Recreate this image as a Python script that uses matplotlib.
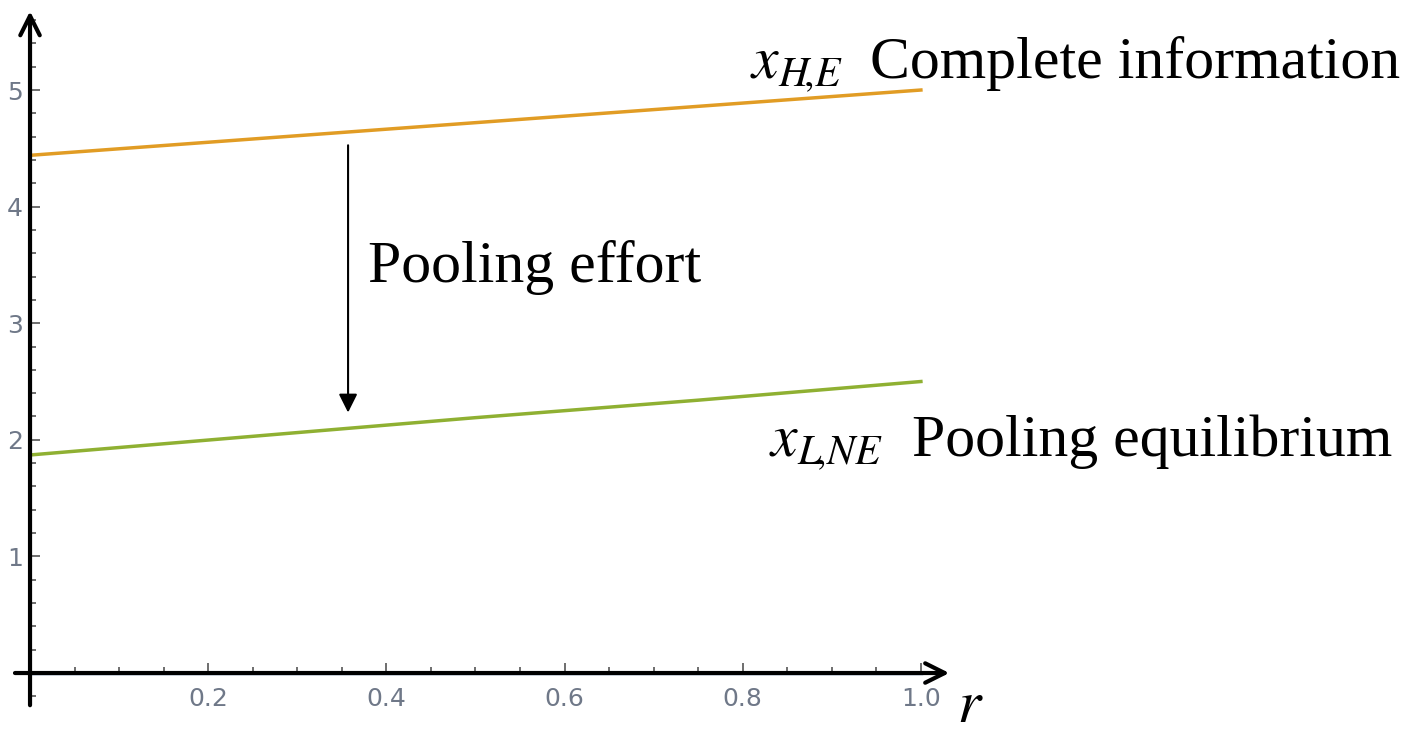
import matplotlib.pyplot as plt
import numpy as np

# values
r = [0.0, 0.25, 0.5, 0.75, 1.0]
x_high = [4.44, 4.58, 4.72, 4.86, 5.0]      # complete information
x_low = [1.87, 2.03, 2.19, 2.34, 2.50]      # pooling equilibrium
zero_line = [0, 0, 0, 0, 0]

xticks = [0.2, 0.4, 0.6, 0.8, 1.0]
xtick_labels = ["0.2", "0.4", "0.6", "0.8", "1.0"]
yticks = [1, 2, 3, 4, 5]
ytick_labels = ["1", "2", "3", "4", "5"]

plt.rcParams['mathtext.fontset'] = 'stix'
serif = 'Liberation Serif'

fig = plt.figure(figsize=(14.18, 7.34), dpi=100)
ax = fig.add_axes([0, 0, 1, 1])
ax.set_xlim(-0.0337, 1.558)
ax.set_ylim(-0.523, 5.772)

ax.plot(r, zero_line, color='#5E81B5', lw=2.5, zorder=2)
ax.plot(r, x_high, color='#E19C24', lw=2.5)
ax.plot(r, x_low, color='#8FB032', lw=2.5)

# axes as arrows
for s in ax.spines.values():
    s.set_visible(False)
ax.spines['left'].set_position(('data', 0))
ax.spines['bottom'].set_position(('data', 0))
ax.annotate('', xy=(0, 5.70), xytext=(0, -0.30),
            arrowprops=dict(arrowstyle='->', lw=3, color='black', mutation_scale=35))
ax.annotate('', xy=(1.035, 0), xytext=(-0.02, 0),
            arrowprops=dict(arrowstyle='->', lw=3, color='black', mutation_scale=35))

ax.set_xticks(xticks)
ax.set_xticklabels(xtick_labels)
ax.set_xticks(np.arange(0, 1.01, 0.05), minor=True)
ax.set_yticks(yticks)
ax.set_yticklabels(ytick_labels)
ax.set_yticks(np.arange(-0.2, 5.61, 0.2), minor=True)
ax.tick_params(which='both', direction='in', color='#555555', width=1.2,
               labelcolor='#6f7888', labelsize=18)
ax.tick_params(which='major', length=7)
ax.tick_params(which='minor', length=4)
ax.tick_params(axis='x', pad=10)
ax.tick_params(axis='y', pad=5)

# annotations
ax.annotate('', xy=(0.357, 2.21), xytext=(0.357, 4.55),
            arrowprops=dict(arrowstyle='-|>', lw=1.5, color='black', mutation_scale=28))
ax.text(0.379, 3.35, 'Pooling effort', fontsize=43, family=serif, va='baseline')

ax.text(0.808, 5.10, r'$x_{H\!,\!E}$', fontsize=43, va='baseline')
ax.text(0.943, 5.10, 'Complete information', fontsize=43, family=serif, va='baseline')

ax.text(0.830, 1.86, r'$x_{L\!,\!NE}$', fontsize=43, va='baseline')
ax.text(0.990, 1.86, 'Pooling equilibrium', fontsize=43, family=serif, va='baseline')

ax.text(1.040, -0.42, r'$r$', fontsize=43, va='baseline')

fig.savefig('out.png', dpi=100)
